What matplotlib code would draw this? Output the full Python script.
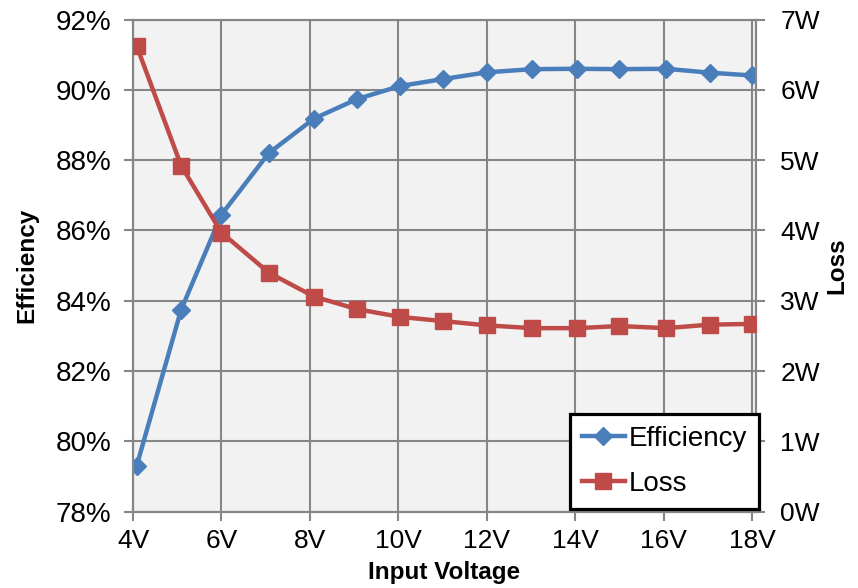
import matplotlib
matplotlib.use('Agg')
import matplotlib.pyplot as plt
from matplotlib.ticker import FuncFormatter

plt.rcParams['font.family'] = ['Liberation Sans', 'DejaVu Sans']

# measured input voltage (V) -- points sit a hair off the round values
input_voltage = [4.08, 5.09, 6.0, 7.07, 8.09, 9.07, 10.04, 11.02, 12.0, 13.03, 14.04, 15.0, 16.06, 17.04, 18.0]
efficiency = [79.29, 83.75, 86.45, 88.2, 89.18, 89.74, 90.11, 90.31, 90.5, 90.59, 90.6, 90.59, 90.6, 90.49, 90.41]
loss = [6.63, 4.92, 3.97, 3.40, 3.06, 2.88, 2.77, 2.71, 2.65, 2.61, 2.61, 2.64, 2.61, 2.66, 2.67]

x_ticks = [4, 6, 8, 10, 12, 14, 16, 18]
eff_ticks = [78, 80, 82, 84, 86, 88, 90, 92]
loss_ticks = [0, 1, 2, 3, 4, 5, 6, 7]

BLUE = '#4A7EBB'
RED = '#BE4B48'
GRID = '#868686'

fig = plt.figure(figsize=(8.58, 5.88), dpi=100)
ax = fig.add_axes([133/858, 1 - 511.6/588, 623/858, 492/588])
ax2 = ax.twinx()

ax.set_facecolor('#F2F2F2')
ax.set_axisbelow(True)
ax.grid(True, color=GRID, linewidth=1.5)

l1, = ax.plot(input_voltage, efficiency, color=BLUE, lw=3.2, marker='D', ms=9.5,
              mec=BLUE, label='Efficiency', zorder=3)
l2, = ax2.plot(input_voltage, loss, color=RED, lw=3.2, marker='s', ms=11.5,
               mec=RED, label='Loss', zorder=3)

ax.set_xlim(4, 18.09)
ax.set_ylim(78, 92)
ax2.set_ylim(0, 7)
ax.set_xticks(x_ticks)
ax.set_yticks(eff_ticks)
ax2.set_yticks(loss_ticks)
ax.xaxis.set_major_formatter(FuncFormatter(lambda v, p: '%dV' % v))
ax.yaxis.set_major_formatter(FuncFormatter(lambda v, p: '%d%%' % v))
ax2.yaxis.set_major_formatter(FuncFormatter(lambda v, p: '%dW' % v))

for a in (ax, ax2):
    for s in a.spines.values():
        s.set_color(GRID)
        s.set_linewidth(1.5)
    a.tick_params(colors=GRID, labelcolor='black', labelsize=19, width=1.5, length=6.5, pad=9)
ax.tick_params(axis='y', labelsize=20)
ax2.tick_params(axis='y', pad=11)
ax.tick_params(axis='x', pad=6)

ax.set_xlabel('Input Voltage', fontsize=17.5, fontweight='bold', labelpad=0)
ax.set_ylabel('Efficiency', fontsize=17.5, fontweight='bold')
ax2.set_ylabel('Loss', fontsize=17.5, fontweight='bold')
ax.yaxis.set_label_coords(-0.152, 0.5)
ax2.yaxis.set_label_coords(1.111, 0.5)
ax.xaxis.set_label_coords(0.5, -0.1)

leg = ax2.legend(handles=[l1, l2], loc='lower right', bbox_to_anchor=(1.005, 0.005),
                 borderaxespad=0, fontsize=20, handlelength=1.55, handletextpad=0.15,
                 labelspacing=0.7, borderpad=0.43, fancybox=False, framealpha=1,
                 edgecolor='black', facecolor='white')
leg.get_frame().set_linewidth(2.3)

fig.savefig('out.png', dpi=100, facecolor='white')
